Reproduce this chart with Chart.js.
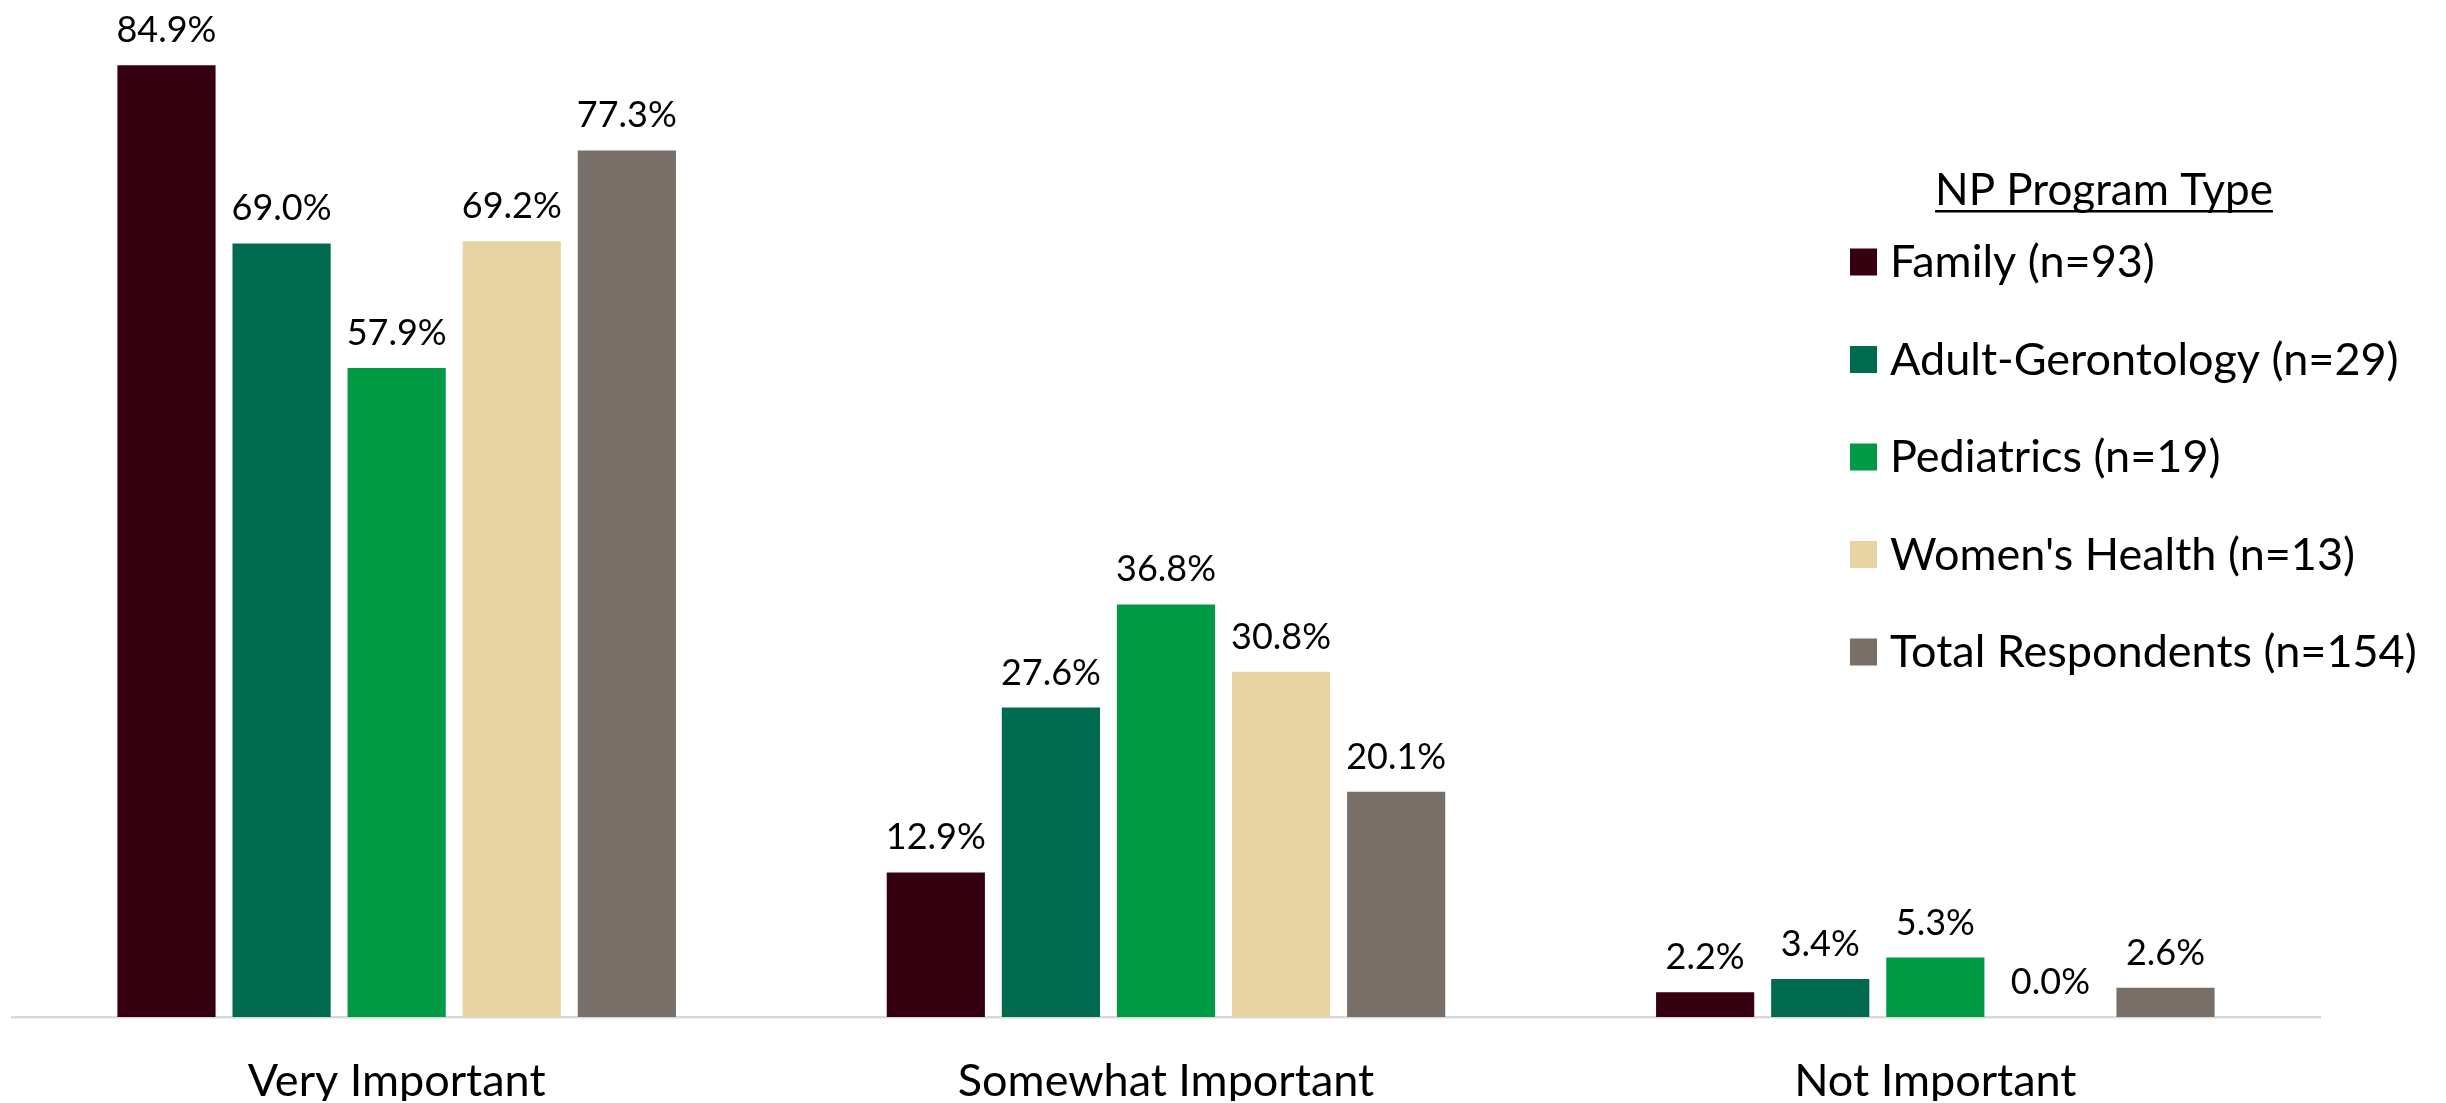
<!DOCTYPE html>
<html>
<head>
<meta charset="utf-8">
<title>NP Program Type</title>
<script src="https://cdn.jsdelivr.net/npm/chart.js@4.4.1/dist/chart.umd.min.js"></script>
<style>
  html, body { margin: 0; padding: 0; background: #ffffff; }
  #wrap { width: 2446px; height: 1103px; }
</style>
</head>
<body>
<div id="wrap"><canvas id="myChart" width="2446" height="1103"></canvas></div>
<script>
const categories = ["Very Important", "Somewhat Important", "Not Important"];
const seriesNames = [
  "Family (n=93)",
  "Adult-Gerontology (n=29)",
  "Pediatrics (n=19)",
  "Women's Health (n=13)",
  "Total Respondents (n=154)",
];
const family = [84.9, 12.9, 2.2];
const adultGero = [69.0, 27.6, 3.4];
const pediatrics = [57.9, 36.8, 5.3];
const womensHealth = [69.2, 30.8, 0.0];
const totalResp = [77.3, 20.1, 2.6];
const colors = ["#360010", "#006a4e", "#009a44", "#e8d4a2", "#786f69"];
const legendTitle = "NP Program Type";

const fontName = "Lato, 'Open Sans', sans-serif";

// labels above each bar
const valueLabels = {
  id: "valueLabels",
  afterDatasetsDraw(chart) {
    const ctx = chart.ctx;
    ctx.save();
    ctx.font = "36px " + fontName;
    ctx.fillStyle = "#000000";
    ctx.textAlign = "center";
    ctx.textBaseline = "alphabetic";
    chart.data.datasets.forEach((ds, i) => {
      const meta = chart.getDatasetMeta(i);
      meta.data.forEach((bar, j) => {
        ctx.fillText(ds.data[j].toFixed(1) + "%", bar.x, bar.y - 23);
      });
    });
    ctx.restore();
  },
};

// legend sits inside the plot area, top right
const sideLegend = {
  id: "sideLegend",
  afterDraw(chart) {
    const ctx = chart.ctx;
    ctx.save();
    ctx.fillStyle = "#000000";
    ctx.font = "44px " + fontName;
    ctx.textAlign = "center";
    ctx.textBaseline = "alphabetic";
    ctx.fillText(legendTitle, 2104, 205);
    const w = ctx.measureText(legendTitle).width;
    ctx.fillRect(2104 - w / 2, 210, w, 2.5);

    ctx.font = "45px " + fontName;
    ctx.textAlign = "left";
    chart.data.datasets.forEach((ds, i) => {
      const cy = 262 + i * 97.5;
      ctx.fillStyle = ds.backgroundColor;
      ctx.fillRect(1850, cy - 13.5, 27, 27);
      ctx.fillStyle = "#000000";
      ctx.fillText(ds.label, 1890, cy + 15);
    });
    ctx.restore();
  },
};

const allSeries = [family, adultGero, pediatrics, womensHealth, totalResp];

const myChart = new Chart(document.getElementById("myChart").getContext("2d"), {
  type: "bar",
  data: {
    labels: categories,
    datasets: allSeries.map((vals, i) => ({
      label: seriesNames[i],
      data: vals,
      backgroundColor: colors[i],
      borderWidth: 0,
      categoryPercentage: 0.748,
      barPercentage: 0.853,
    })),
  },
  options: {
    responsive: false,
    animation: false,
    devicePixelRatio: 1,
    layout: {
      padding: { left: 12, right: 126, top: 8, bottom: 2 },
    },
    plugins: {
      legend: { display: false },
      tooltip: { enabled: false },
    },
    scales: {
      x: {
        grid: { display: false, drawTicks: false },
        border: { display: true, color: "#d9d9d9", width: 2.5 },
        ticks: {
          color: "#000000",
          padding: 42,
          font: { family: fontName, size: 45, lineHeight: 1 },
        },
        afterFit(scale) {
          scale.height = 84;
        },
      },
      y: {
        display: false,
        min: 0,
        max: 90,
      },
    },
  },
  plugins: [valueLabels, sideLegend],
});
</script>
</body>
</html>
